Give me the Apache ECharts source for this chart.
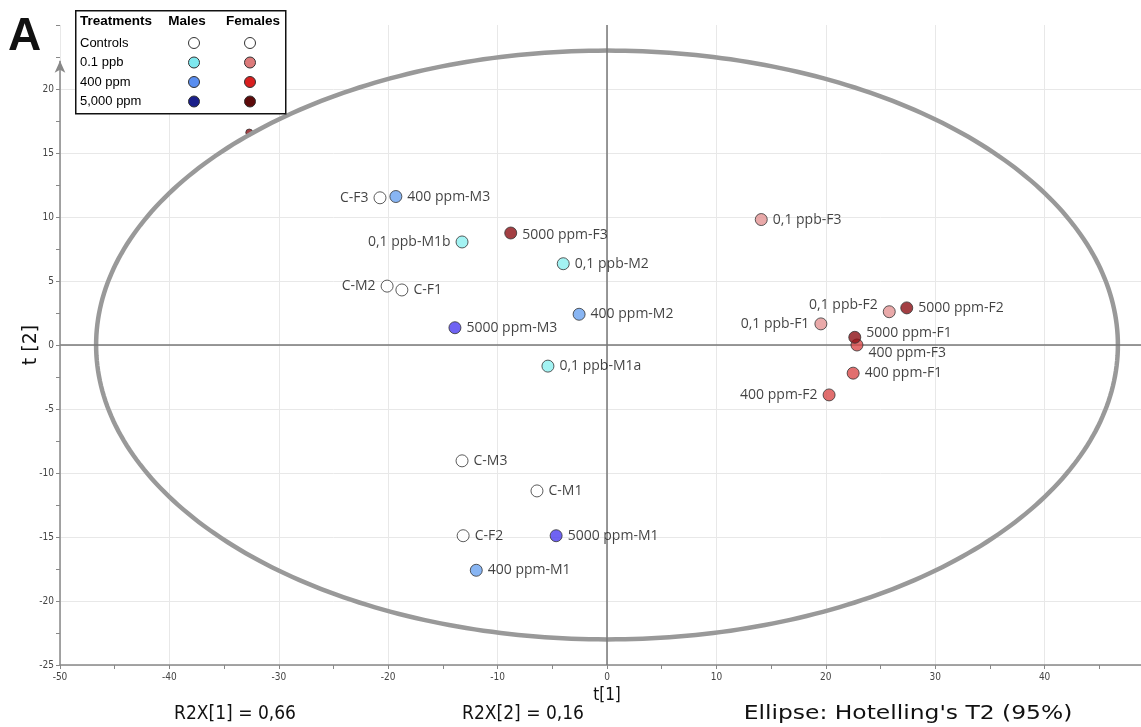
<!DOCTYPE html>
<html>
<head>
<meta charset="utf-8">
<script src="https://cdn.jsdelivr.net/npm/echarts@6/dist/echarts.min.js"></script>
<style>
html,body{margin:0;padding:0;background:#fff;overflow:hidden;}
#chart{width:1154px;height:727px;}
</style>
</head>
<body>
<div id="chart"></div>
<script>
// ---- data ----
const pointNames = ['C-F3','400 ppm-M3','0,1 ppb-M1b','5000 ppm-F3','0,1 ppb-M2','C-M2','C-F1','400 ppm-M2','5000 ppm-M3','0,1 ppb-M1a',
  '0,1 ppb-F3','0,1 ppb-F2','5000 ppm-F2','0,1 ppb-F1','5000 ppm-F1','400 ppm-F3','400 ppm-F1','400 ppm-F2',
  'C-M3','C-M1','C-F2','5000 ppm-M1','400 ppm-M1'];
const t1 = [-20.75,-19.3,-13.25,-8.8,-4.0,-20.1,-18.75,-2.55,-13.9,-5.4,
  14.1,25.8,27.4,19.55,22.65,22.85,22.5,20.3,
  -13.25,-6.4,-13.15,-4.65,-11.95];
const t2 = [11.5,11.6,8.05,8.75,6.35,4.6,4.3,2.4,1.35,-1.65,
  9.8,2.6,2.9,1.65,0.6,0.0,-2.2,-3.9,
  -9.05,-11.4,-14.9,-14.9,-17.6];
const groupOf = ['ctrl','400-M','01-M','5000-F','01-M','ctrl','ctrl','400-M','5000-M','01-M',
  '01-F','01-F','5000-F','01-F','5000-F','400-F','400-F','400-F',
  'ctrl','ctrl','ctrl','5000-M','400-M'];
// partly hidden point (label covered by the legend box)
const hiddenT1 = [-32.7];
const hiddenT2 = [16.6];

const ellipseCenter = [0, 0];
const ellipseRadii = [46.7, 23.0];

const legendTreatments = ['Controls','0.1 ppb','400 ppm','5,000 ppm'];
const legendHeader = ['Treatments','Males','Females'];
const r2xLabels = ['R2X[1] = 0,66','R2X[2] = 0,16',"Ellipse: Hotelling's T2 (95%)"];

// ---- styles ----
const groupColor = {
  'ctrl':'#ffffff','01-M':'#8cf0f0','400-M':'#6aa2f0','5000-M':'#4b3cf0',
  '01-F':'#e39494','400-F':'#d94a4a','5000-F':'#8c0f14'
};
const legendMaleColors = ['#ffffff','#7ee8ef','#5a8ef0','#1a1f8a'];
const legendFemaleColors = ['#ffffff','#dc7a7a','#d81f1f','#5c0a0a'];
const leftLabels = new Set(['C-F3','0,1 ppb-M1b','C-M2','0,1 ppb-F2','0,1 ppb-F1','400 ppm-F2']);
const labelOffsets = {'0,1 ppb-F2':[0,-7],'5000 ppm-F1':[0,-4],'400 ppm-F3':[0,8],'5000 ppm-F3':[0,2]};

const groupKeys = ['ctrl','01-M','400-M','5000-M','01-F','400-F','5000-F'];
const scatterSeries = groupKeys.map(g => ({
  type:'scatter', name:g, z:5,
  symbolSize:12,
  itemStyle:{color:groupColor[g], borderColor:'#333', borderWidth:1},
  label:{show:true, formatter:'{b}', fontFamily:'Open Sans', fontSize:14, color:'#111', distance:5},
  emphasis:{disabled:true},
  data: pointNames.map((n,i)=>({n,i})).filter(o=>groupOf[o.i]===g).map(o=>({
    name:o.n, value:[t1[o.i], t2[o.i]],
    label:{position: leftLabels.has(o.n)?'left':'right', offset: labelOffsets[o.n]||[0,0]}
  }))
}));

const gridColors = ['#e8e8e8','#e8e8e8','#e8e8e8','#e8e8e8','#e8e8e8','#e8e8e8','#e8e8e8','#e8e8e8','#e8e8e8','#e8e8e8','rgba(0,0,0,0)'];

const tickFont = {fontFamily:'DejaVu Sans Condensed', fontSize:10, color:'#444'};

const chart = echarts.init(document.getElementById('chart'), null, {renderer:'canvas'});

const legendGraphic = [];
const lx = 75, ly = 10;
legendGraphic.push({type:'rect', left:lx, top:ly, z:100, shape:{width:210, height:103}, style:{fill:'#fff', stroke:'#111', lineWidth:1.5}});
legendGraphic.push({type:'text', left:lx+5, top:ly+4, z:101, style:{text:legendHeader[0], font:'bold 13.5px "Liberation Sans", Arial', fill:'#000'}});
legendGraphic.push({type:'text', x:187, y:ly+4, z:101, style:{text:legendHeader[1], font:'bold 13.5px "Liberation Sans", Arial', fill:'#000', textAlign:'center'}});
legendGraphic.push({type:'text', x:253, y:ly+4, z:101, style:{text:legendHeader[2], font:'bold 13.5px "Liberation Sans", Arial', fill:'#000', textAlign:'center'}});
legendTreatments.forEach((t,k)=>{
  const cy = 43 + k*19.5;
  legendGraphic.push({type:'text', x:lx+5, y:cy, z:101, style:{text:t, font:'13px "Liberation Sans", Arial', fill:'#000', textVerticalAlign:'middle'}});
  legendGraphic.push({type:'circle', z:101, shape:{cx:194, cy:cy, r:5.5}, style:{fill:legendMaleColors[k], stroke:'#333', lineWidth:1}});
  legendGraphic.push({type:'circle', z:101, shape:{cx:250, cy:cy, r:5.5}, style:{fill:legendFemaleColors[k], stroke:'#333', lineWidth:1}});
});

const bottomX = [235, 523, 908];
const bottomScale = [0.95, 0.95, 1.3];
const bottomGraphic = r2xLabels.map((t,k)=>({
  type:'text', x:bottomX[k], y:714, z:50, scaleX:bottomScale[k], originX:0, originY:0,
  style:{text:t, font:'20px "DejaVu Sans Condensed"', fill:'#111', textAlign:'center', textVerticalAlign:'middle'}
}));

const option = {
  backgroundColor:'#fff',
  animation:false,
  grid:{left:60, right:0, top:25, bottom:62, containLabel:false},
  xAxis:{
    type:'value', min:-50, max:50, interval:10,
    name:'t[1]', nameLocation:'middle', nameGap:20,
    nameTextStyle:{fontFamily:'DejaVu Sans Condensed', fontSize:17, color:'#111'},
    axisLine:{show:true, onZero:false, lineStyle:{color:'#888', width:1.5}},
    axisTick:{show:true, length:4, lineStyle:{color:'#888'}},
    minorTick:{show:true, splitNumber:2, length:4, lineStyle:{color:'#888'}},
    axisLabel:Object.assign({margin:7, showMaxLabel:false}, tickFont),
    splitLine:{show:true, lineStyle:{color:gridColors, width:1}}
  },
  yAxis:{
    type:'value', min:-25, max:25, interval:5,
    axisLine:{show:false, onZero:false},
    axisTick:{show:true, length:4, lineStyle:{color:'#888'}},
    minorTick:{show:true, splitNumber:2, length:4, lineStyle:{color:'#888'}},
    axisLabel:Object.assign({margin:6, showMaxLabel:false}, tickFont),
    splitLine:{show:true, lineStyle:{color:gridColors, width:1}}
  },
  graphic: [
    {type:'text', left:8, top:14, z:100, style:{text:'A', font:'bold 46px "Liberation Sans", Arial', fill:'#111'}},
    {type:'text', x:31, y:345, rotation:Math.PI/2, originX:0, originY:0, z:50,
      style:{text:'t [2]', font:'19px "DejaVu Sans"', fill:'#111', textAlign:'center', textVerticalAlign:'middle'}}
  ].concat(legendGraphic, bottomGraphic),
  series: [
    {
      type:'line', data:[], z:2, silent:true,
      markLine:{
        silent:true, symbol:'none', animation:false, label:{show:false},
        lineStyle:{color:'#777', width:1.5, type:'solid'},
        data:[
          [{coord:[0,-25]},{coord:[0,25]}],
          [{coord:[-50,0]},{coord:[50,0]}]
        ]
      }
    },
    {
      type:'line', data:[], z:3, silent:true,
      markLine:{
        silent:true, symbol:['none','arrow'], symbolSize:[8,12], animation:false, label:{show:false},
        lineStyle:{color:'#888', width:1.5, type:'solid'},
        data:[[{coord:[-50,-25]},{coord:[-50,22.2]}]]
      }
    },
    {
      type:'scatter', z:3, symbolSize:7, silent:true,
      itemStyle:{color:groupColor['5000-F'], borderColor:'#333', borderWidth:1},
      data: hiddenT1.map((x,i)=>[x, hiddenT2[i]])
    },
    {
      type:'custom', z:4, silent:true, clip:false,
      data:[ellipseCenter],
      renderItem:function(params, api){
        const c = api.coord([api.value(0), api.value(1)]);
        const s = api.size(ellipseRadii);
        const pts = [];
        for (let k=0;k<=360;k++){
          const a = k*Math.PI/180;
          pts.push([c[0]+s[0]*Math.cos(a), c[1]+s[1]*Math.sin(a)]);
        }
        return {type:'polyline', shape:{points:pts}, style:{stroke:'#999', lineWidth:4.5, fill:null}};
      }
    }
  ].concat(scatterSeries)
};
chart.setOption(option);
</script>
</body>
</html>
